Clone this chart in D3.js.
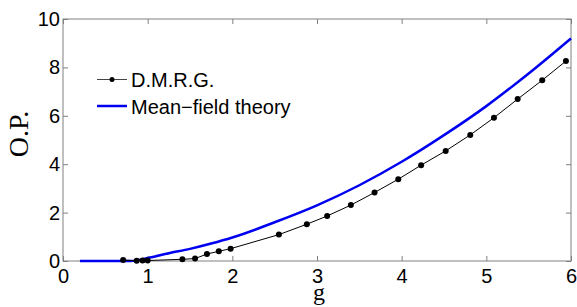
<!DOCTYPE html>
<html>
<head>
<meta charset="utf-8">
<script src="https://cdn.jsdelivr.net/npm/d3@7"></script>
<style>
body { margin: 0; background: #fff; }
svg { display: block; }
</style>
</head>
<body>
<svg id="chart"></svg>
<script>
var WIDTH = 577, HEIGHT = 307;

// D.M.R.G. points
var dmrgG   = [0.71, 0.87, 0.94, 1.0, 1.41, 1.56, 1.70, 1.84, 1.98, 2.55, 2.88, 3.12, 3.40, 3.68, 3.96, 4.23, 4.52, 4.81, 5.09, 5.37, 5.66, 5.94];
var dmrgVal = [0.04, 0.01, 0.02, 0.02, 0.07, 0.10, 0.29, 0.40, 0.51, 1.09, 1.52, 1.86, 2.31, 2.83, 3.38, 3.96, 4.55, 5.21, 5.92, 6.69, 7.47, 8.26];

// Mean-field theory curve
var mfG   = [0.2, 0.8, 1.0, 1.25, 1.5, 1.75, 2.0, 2.5, 3.0, 3.5, 4.0, 4.5, 5.0, 5.5, 6.0];
var mfVal = [0, 0, 0.12, 0.32, 0.5, 0.72, 0.97, 1.6, 2.3, 3.13, 4.1, 5.2, 6.4, 7.75, 9.2];

var xTicks = [0, 1, 2, 3, 4, 5, 6];
var yTicks = [0, 2, 4, 6, 8, 10];
var legendLabels = ['D.M.R.G.', 'Mean\u2212field theory'];

var PL = 63, PR = 571, PT = 19, PB = 261;

var svg = d3.select('#chart').attr('width', WIDTH).attr('height', HEIGHT);

var xScale = d3.scaleLinear().domain([0, 6]).range([PL, PR]);
var yScale = d3.scaleLinear().domain([0, 10]).range([PB, PT]);

var axisColor = '#808080';
var blue = '#0000f0';
var fmt = d3.format('d');

// frame
svg.append('rect')
  .attr('x', PL).attr('y', PT)
  .attr('width', PR - PL).attr('height', PB - PT)
  .attr('fill', 'none').attr('stroke', axisColor).attr('stroke-width', 1);

function styleAxis(g, showText) {
  g.select('.domain').remove();
  g.selectAll('.tick line').attr('stroke', axisColor);
  g.selectAll('.tick text')
    .attr('font-family', 'Liberation Sans, Arial, sans-serif')
    .attr('font-size', 20).attr('fill', '#000');
  if (!showText) g.selectAll('.tick text').remove();
}

svg.append('g')
  .attr('transform', 'translate(0,' + PB + ')')
  .call(d3.axisBottom(xScale).tickValues(xTicks).tickFormat(fmt).tickSize(-5).tickPadding(8))
  .call(styleAxis, true);
svg.append('g')
  .attr('transform', 'translate(0,' + PT + ')')
  .call(d3.axisTop(xScale).tickValues(xTicks).tickSize(-5))
  .call(styleAxis, false);
svg.append('g')
  .attr('transform', 'translate(' + PL + ',0)')
  .call(d3.axisLeft(yScale).tickValues(yTicks).tickFormat(fmt).tickSize(-5).tickPadding(3))
  .call(styleAxis, true);
svg.append('g')
  .attr('transform', 'translate(' + PR + ',0)')
  .call(d3.axisRight(yScale).tickValues(yTicks).tickSize(-5))
  .call(styleAxis, false);

// mean-field line
var mfData = mfG.map(function(g, i) { return {g: g, v: mfVal[i]}; });
var line = d3.line()
  .x(function(d) { return xScale(d.g); })
  .y(function(d) { return yScale(d.v); })
  .curve(d3.curveMonotoneX);
svg.append('path').datum(mfData)
  .attr('d', line).attr('fill', 'none')
  .attr('stroke', blue).attr('stroke-width', 2.5);

// DMRG line + markers
var dmrgData = dmrgG.map(function(g, i) { return {g: g, v: dmrgVal[i]}; });
svg.append('path').datum(dmrgData)
  .attr('d', d3.line().x(function(d) { return xScale(d.g); }).y(function(d) { return yScale(d.v); }))
  .attr('fill', 'none').attr('stroke', '#000').attr('stroke-width', 1);
svg.selectAll('circle.dmrg').data(dmrgData).enter().append('circle')
  .attr('class', 'dmrg')
  .attr('cx', function(d) { return xScale(d.g); })
  .attr('cy', function(d) { return yScale(d.v); })
  .attr('r', 3).attr('fill', '#000');

// legend
var lg = svg.append('g');
lg.append('line').attr('x1', 97).attr('x2', 127).attr('y1', 79.5).attr('y2', 79.5)
  .attr('stroke', '#444').attr('stroke-width', 1);
lg.append('circle').attr('cx', 112).attr('cy', 79.5).attr('r', 2.5).attr('fill', '#000');
lg.append('line').attr('x1', 97).attr('x2', 127).attr('y1', 106).attr('y2', 106)
  .attr('stroke', blue).attr('stroke-width', 2.5);
lg.selectAll('text').data(legendLabels).enter().append('text')
  .attr('x', 131)
  .attr('y', function(d, i) { return 87 + i * 26.5; })
  .attr('font-family', 'Liberation Sans, Arial, sans-serif')
  .attr('font-size', 20).attr('fill', '#000')
  .text(function(d) { return d; });

// axis titles
svg.append('text')
  .attr('x', (PL + PR) / 2 + 2).attr('y', 300)
  .attr('text-anchor', 'middle')
  .attr('font-family', 'Liberation Serif, Times New Roman, serif')
  .attr('font-size', 24).text('g');
svg.append('text')
  .attr('transform', 'translate(28,134) rotate(-90)')
  .attr('text-anchor', 'middle')
  .attr('font-family', 'Liberation Serif, Times New Roman, serif')
  .attr('font-size', 28).text('O.P.');
</script>
</body>
</html>
